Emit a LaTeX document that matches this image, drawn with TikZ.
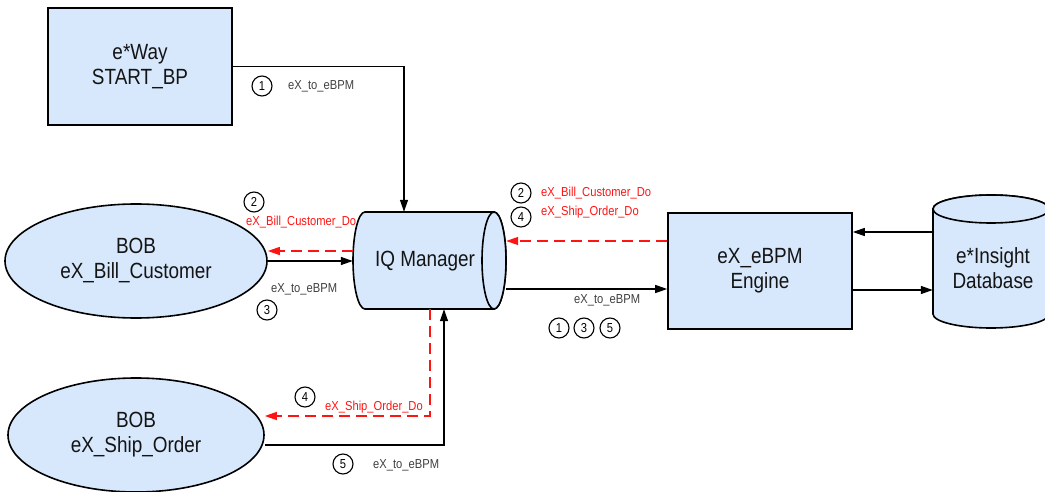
\documentclass[tikz,border=0pt]{standalone}
\usepackage{fontspec}
\setmainfont{Liberation Sans}[FakeStretch=0.86]
\usetikzlibrary{arrows.meta,shapes.geometric}
\definecolor{boxfill}{RGB}{215,232,252}
\definecolor{txtc}{RGB}{20,20,20}
\definecolor{lblc}{RGB}{64,64,64}
\definecolor{redc}{RGB}{255,20,20}
\tikzset{
  border/.style={draw=black, line width=1.6pt, fill=boxfill},
  mainfont/.style={font=\fontsize{22}{25}\selectfont, text=txtc, align=center},
  boxnode/.style={rectangle, border, mainfont, inner sep=0pt},
  ellnode/.style={ellipse, border, mainfont, inner sep=0pt},
  ghost/.style={rectangle, inner sep=0pt},
  arr/.style={line width=1.3pt, draw=black, -{Triangle[length=12pt,width=8pt]}},
  redarr/.style={line width=1.3pt, draw=redc, dash pattern=on 11pt off 6pt, -{Triangle[length=12pt,width=8pt]}},
  num/.style={circle, draw=black, line width=1.1pt, inner sep=0pt, minimum size=20pt, font=\fontsize{13}{13}\selectfont},
  lbl/.style={anchor=west, inner sep=0pt, font=\fontsize{13}{13}\selectfont, text=lblc},
  rlbl/.style={anchor=west, inner sep=0pt, font=\fontsize{13}{13}\selectfont, text=redc},
}
\begin{document}
\begin{tikzpicture}[x=1pt,y=-1pt]
\useasboundingbox (0,0) rectangle (1045,492);
% nodes
\node[boxnode, minimum width=184pt, minimum height=117pt] (way) at (140,66.5) {e*Way\\START\_BP};
\node[ellnode, minimum width=262pt, minimum height=114pt] (bill) at (136,261) {BOB\\eX\_Bill\_Customer};
\node[ellnode, minimum width=256pt, minimum height=114pt] (ship) at (136,435) {BOB\\eX\_Ship\_Order};
\node[boxnode, minimum width=184pt, minimum height=116pt] (eng) at (760,271) {eX\_eBPM\\Engine};
% IQ Manager cylinder (horizontal)
\node[ghost, minimum width=153pt, minimum height=97pt] (iq) at (429.5,260.5) {};
\path[border] (365,212) -- (494,212) arc[start angle=90, end angle=-90, x radius=12pt, y radius=48.5pt]
  -- (365,309) arc[start angle=270, end angle=90, x radius=12pt, y radius=48.5pt] -- cycle;
\draw[border] (494,260.5) ellipse [x radius=12pt, y radius=48.5pt];
\node[mainfont] (iqtext) at (425,261) {IQ Manager};
% Database cylinder (vertical)
\node[ghost, minimum width=116pt, minimum height=133pt] (db) at (991,261.5) {};
\path[border] (933,209) -- (933,314) arc[start angle=180, end angle=360, x radius=58pt, y radius=14pt]
  -- (1049,209) arc[start angle=0, end angle=180, x radius=58pt, y radius=14pt] -- cycle;
\draw[border] (991,209) ellipse [x radius=58pt, y radius=14pt];
\node[mainfont] (dbtext) at (993,268) {e*Insight\\Database};
% connectors
\draw[arr] (way.east) -| ([xshift=-25.5pt]iq.north);
\draw[redarr] (iq.west |- 0,251) -- (bill.east |- 0,251);
\draw[arr] (bill.east |- 0,261) -- (iq.west |- 0,261);
\draw[redarr] (eng.west |- 0,241) -- (iq.east |- 0,241);
\draw[arr] (iq.east |- 0,289) -- (eng.west |- 0,289);
\draw[arr] (db.west |- 0,232) -- (eng.east |- 0,232);
\draw[arr] (eng.east |- 0,290) -- (db.west |- 0,290);
\draw[redarr] ([xshift=0.5pt]iq.south) |- (ship.east |- 0,416);
\draw[arr] (ship.east |- 0,445) -| ([xshift=14.5pt]iq.south);
% labels
\node[num] (n1a) at (262,86) {1};
\node[lbl] (l1a) at (288,86) {eX\_to\_eBPM};
\node[num] (n2a) at (254,202) {2};
\node[rlbl] (l2a) at (246,222) {eX\_Bill\_Customer\_Do};
\node[lbl] (l3a) at (271,289) {eX\_to\_eBPM};
\node[num] (n3a) at (267,310) {3};
\node[num] (n2b) at (521,193) {2};
\node[rlbl] (l2b) at (541,193) {eX\_Bill\_Customer\_Do};
\node[num] (n4b) at (521,217) {4};
\node[rlbl] (l4b) at (541,212) {eX\_Ship\_Order\_Do};
\node[lbl] (l1c) at (574,300) {eX\_to\_eBPM};
\node[num] (n1c) at (559,328) {1};
\node[num] (n3c) at (584,328) {3};
\node[num] (n5c) at (610,328) {5};
\node[num] (n4d) at (305,397) {4};
\node[rlbl] (l4d) at (325,407) {eX\_Ship\_Order\_Do};
\node[num] (n5d) at (343,464) {5};
\node[lbl] (l5d) at (373,465) {eX\_to\_eBPM};
\end{tikzpicture}
\end{document}
